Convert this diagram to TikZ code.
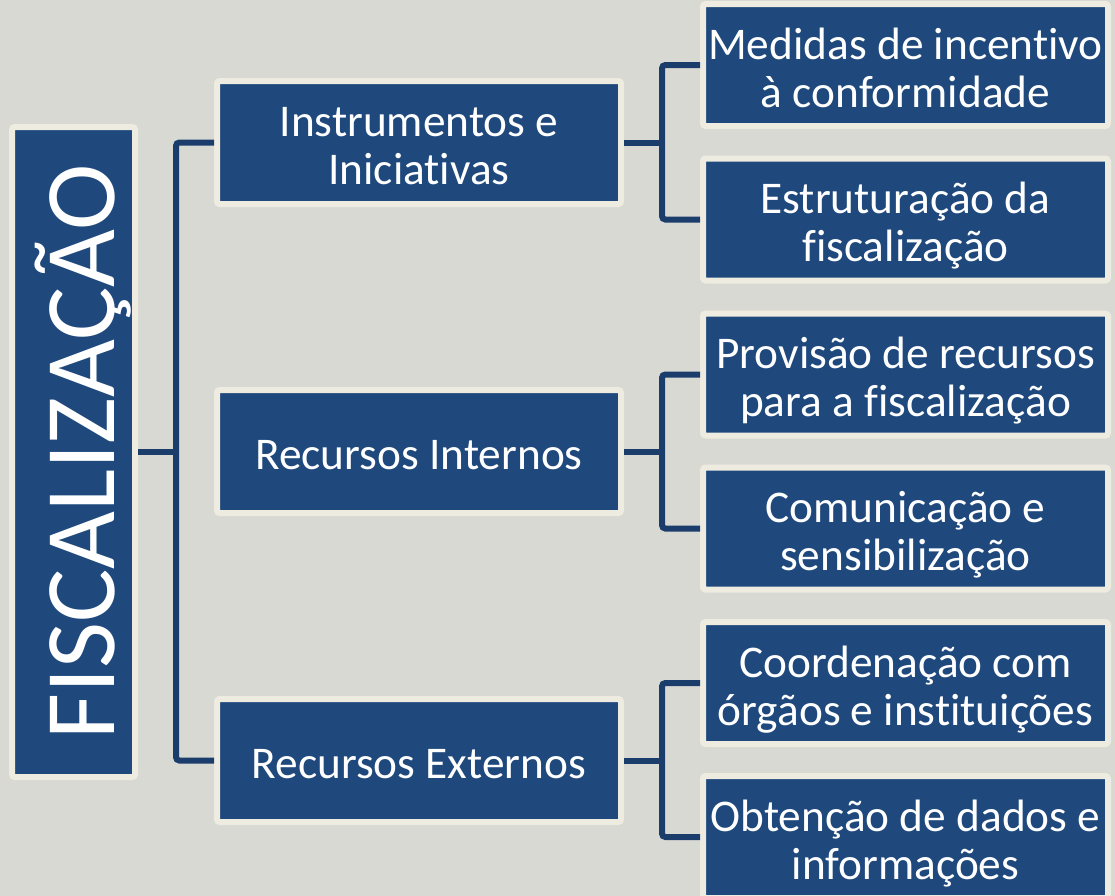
\documentclass[tikz,border=0pt]{standalone}
\usepackage{fontspec}
\setmainfont{Carlito}[Ligatures=NoCommon]
\usepackage{graphicx}
\definecolor{boxblue}{HTML}{1F497D}
\definecolor{lineblue}{HTML}{1B3D6B}
\definecolor{cream}{HTML}{EEECE1}
\definecolor{bgray}{HTML}{D9D9D4}
% text sits a little low in the boxes
\newcommand{\boxtext}[1]{\raisebox{-6.5pt}[\height][\depth]{\begin{tabular}{@{}c@{}}#1\end{tabular}}}

\begin{document}
\begin{tikzpicture}[x=0.75pt, y=-0.75pt,
    box/.style={draw=cream, line width=4.5pt, fill=boxblue, text=white, rounded corners=2pt,
        inner sep=0pt, align=center, font=\fontsize{34}{36}\selectfont},
    midbox/.style={box, minimum width=303pt, minimum height=92.25pt},
    subbox/.style={box, minimum width=303.75pt, minimum height=91.5pt},
    link/.style={draw=lineblue, line width=4.5pt, rounded corners=2.5pt}]
        \fill[bgray] (0,0) rectangle (1115,896);
        \clip (0,0) rectangle (1115,896);

        % root
        \node[box, minimum width=92.25pt, minimum height=487.5pt, font=\fontsize{75}{90}\selectfont] (root) at (73.5,452)
            {\rotatebox{90}{\raisebox{-7.5pt}[\height][\depth]{FISCALIZAÇÃO}}};

        % second level
        \node[midbox] (inst) at (419,142.5) {\boxtext{Instrumentos e\\Iniciativas}};
        \node[midbox] (rint) at (419,451.5) {\boxtext{Recursos Internos}};
        \node[midbox] (rext) at (419,760.5) {\boxtext{Recursos Externos}};

        % third level
        \node[subbox] (med) at (905.5,65) {\boxtext{Medidas de incentivo\\à conformidade}};
        \node[subbox] (estr) at (905.5,219.5) {\boxtext{Estruturação da\\fiscalização}};
        \node[subbox] (prov) at (905.5,374.5) {\boxtext{Provisão de recursos\\para a fiscalização}};
        \node[subbox] (com) at (905.5,528.5) {\boxtext{Comunicação e\\sensibilização}};
        \node[subbox] (coord) at (905.5,683) {\boxtext{Coordenação com\\órgãos e instituições}};
        \node[subbox] (obt) at (905.5,837) {\boxtext{Obtenção de dados e\\informações}};

        \coordinate (hub) at (176,452);
        \draw[link] (root.east |- hub) -- (hub);
        \draw[link] (inst.west) -- ++(-38,0) |- (rext.west);

        \draw[link] (inst.east) -- ++(38,0);
        \draw[link] (med.west) -- ++(-38,0) |- (estr.west);
        \draw[link] (rint.east) -- ++(38,0);
        \draw[link] (prov.west) -- ++(-38,0) |- (com.west);
        \draw[link] (rext.east) -- ++(38,0);
        \draw[link] (coord.west) -- ++(-38,0) |- (obt.west);
    \end{tikzpicture}
\end{document}
